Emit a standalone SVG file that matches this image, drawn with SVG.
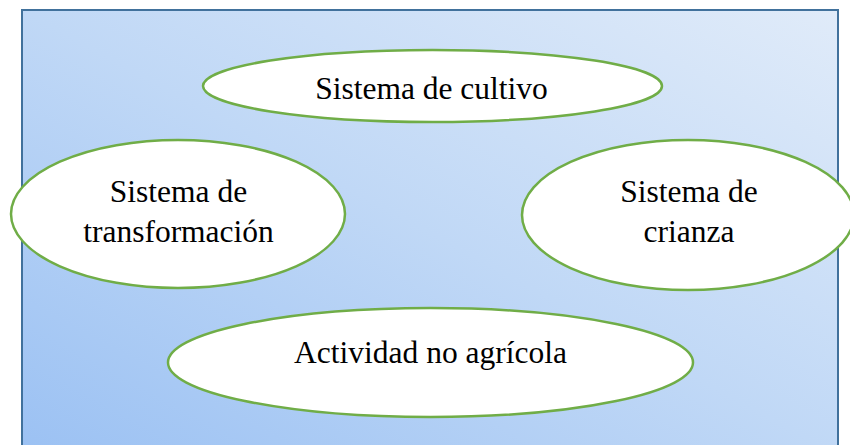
<svg xmlns="http://www.w3.org/2000/svg" width="850" height="445" viewBox="0 0 850 445">
<defs>
<linearGradient id="bg" x1="0" y1="1" x2="1" y2="0">
<stop offset="0" stop-color="#9bc1f3"/>
<stop offset="0.5" stop-color="#c0d8f6"/>
<stop offset="1" stop-color="#e0ebf9"/>
</linearGradient>
<style>
.n{fill:#ffffff;stroke:#70ad47;stroke-width:2.5}
.t{font-family:'Liberation Serif','DejaVu Serif',serif;font-size:31.5px;fill:#000;text-anchor:middle}
</style>
</defs>
<rect x="0" y="0" width="850" height="445" fill="#ffffff"/>
<rect id="frame" x="22" y="10" width="816" height="445" fill="url(#bg)" stroke="#41719c" stroke-width="2"/>
<g id="connectors"/>
<g id="cultivo">
<ellipse class="n" cx="432.5" cy="86" rx="229.5" ry="36"/>
<text class="t" x="431.5" y="99">Sistema de cultivo</text>
</g>
<g id="transformacion">
<ellipse class="n" cx="178" cy="214" rx="167" ry="74"/>
<text class="t" x="178.5" y="202">Sistema de</text>
<text class="t" x="178.5" y="242">transformación</text>
</g>
<g id="crianza">
<ellipse class="n" cx="688" cy="215" rx="166" ry="75"/>
<text class="t" x="689" y="202">Sistema de</text>
<text class="t" x="689" y="242">crianza</text>
</g>
<g id="actividad">
<ellipse class="n" cx="430.5" cy="362.5" rx="262.5" ry="54.5"/>
<text class="t" x="430.5" y="363">Actividad no agrícola</text>
</g>
</svg>
